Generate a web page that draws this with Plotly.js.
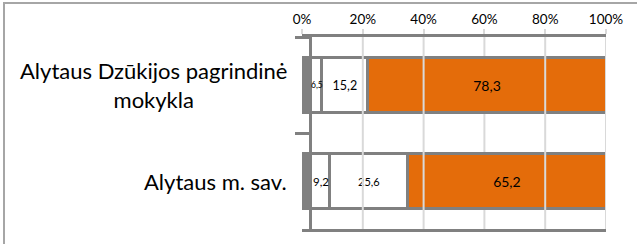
<!DOCTYPE html>
<html>
<head>
<meta charset="utf-8">
<script src="https://cdn.plot.ly/plotly-3.0.1.min.js"></script>
<style>html,body{margin:0;padding:0;background:#fff;}#chart{width:637px;height:244px;}</style>
</head>
<body>
<div id="chart"></div>
<script>
// Data
var categories = ["Alytaus Dzūkijos pagrindinė mokykla", "Alytaus m. sav."];
var categoryLabels = ["Alytaus Dzūkijos pagrindinė<br>mokykla", "Alytaus m. sav."];
var series1 = [6.5, 9.2];
var series2 = [15.2, 25.6];
var series3 = [78.3, 65.2];
var tickValues = [0, 20, 40, 60, 80, 100];
var tickLabels = ["0%", "20%", "40%", "60%", "80%", "100%"];

// Styles
var FONT = "Lato, 'Open Sans', sans-serif";
var BORDER = "#808080";
var GRID = "#d9d9d9";
var ORANGE = "#E46C0A";
var seriesList = [series1, series2, series3];
var fills = ["#ffffff", "#ffffff", ORANGE];
var textSizes = [[8.5, 11.5], [12.5, 11], [14, 14]];
var gridBehindBars = [60];
var BLOCK_END = 3.2; // width of the dark block at the bar start (axis units)

function fmt(v) { return v.toFixed(1).replace(".", ","); }

var traces = seriesList.map(function (s, k) {
  return {
    type: "bar",
    orientation: "h",
    y: categories,
    x: s,
    text: s.map(fmt),
    textposition: k === 0 ? "none" : "inside",
    insidetextanchor: "middle",
    textangle: 0,
    constraintext: "none",
    textfont: { family: FONT, size: textSizes[k], color: "#000" },
    marker: { color: fills[k], line: { color: BORDER, width: 3 } },
    hoverinfo: "none",
    showlegend: false
  };
});

var W = 637, H = 244, ML = 302, MR = 31, MT = 37, MB = 15;
var plotW = W - ML - MR, plotH = H - MT - MB;
function px2paperX(px) { return (px - ML) / plotW; }
function px2paperY(py) { return 1 - (py - MT) / plotH; }

var shapes = [];
tickValues.slice(1).forEach(function (v) {
  shapes.push({ type: "line", xref: "x", yref: "paper", x0: v, x1: v, y0: 0, y1: 1,
    line: { color: GRID, width: 2 },
    layer: gridBehindBars.indexOf(v) >= 0 ? "below" : "above" });
});
categories.forEach(function (c, i) {
  shapes.push({ type: "rect", xref: "x", yref: "y", x0: 0, x1: BLOCK_END, y0: i - 0.3, y1: i + 0.3,
    fillcolor: BORDER, line: { width: 0 }, layer: "above" });
});
shapes.push({ type: "rect", xref: "paper", yref: "paper",
  x0: px2paperX(4), x1: px2paperX(W + 20), y0: px2paperY(H + 20), y1: px2paperY(3),
  line: { color: "#a6a6a6", width: 2 }, fillcolor: "rgba(0,0,0,0)", layer: "below" });

var annotations = categories.map(function (c, i) {
  return {
    xref: "paper", yref: "y", x: px2paperX(289), y: c,
    xanchor: "right", yanchor: "middle", align: "center",
    text: categoryLabels[i], showarrow: false,
    font: { family: FONT, size: 22, color: "#000" }
  };
});
// labels of the first (narrow) segment, placed in the visible part of the segment
categories.forEach(function (c, i) {
  annotations.push({
    xref: "x", yref: "y", x: (BLOCK_END + series1[i]) / 2, y: c,
    xanchor: "center", yanchor: "middle", showarrow: false,
    text: fmt(series1[i]), borderpad: 0,
    font: { family: FONT, size: textSizes[0][i], color: "#000" }
  });
});

var layout = {
  width: W, height: H,
  margin: { l: ML, r: MR, t: MT, b: MB, pad: 0 },
  paper_bgcolor: "#fff", plot_bgcolor: "#fff",
  barmode: "stack", bargap: 0.43,
  showlegend: false,
  xaxis: {
    range: [0, 100], side: "top", tickvals: tickValues, ticktext: tickLabels,
    ticks: "outside", ticklen: 5, tickwidth: 2, tickcolor: GRID,
    showline: true, linecolor: BORDER, linewidth: 3, mirror: true,
    showgrid: false, zeroline: false, fixedrange: true,
    tickfont: { family: FONT, size: 13.5, color: "#000" }
  },
  yaxis: {
    type: "category", categoryarray: categories, autorange: "reversed",
    anchor: "free", position: px2paperX(310),
    showline: true, linecolor: BORDER, linewidth: 3,
    ticks: "outside", tickson: "boundaries", ticklen: 14, tickwidth: 3, tickcolor: BORDER,
    showticklabels: false, showgrid: false, zeroline: false, fixedrange: true
  },
  shapes: shapes,
  annotations: annotations
};

Plotly.newPlot("chart", traces, layout, { displayModeBar: false, staticPlot: true });
</script>
</body>
</html>
